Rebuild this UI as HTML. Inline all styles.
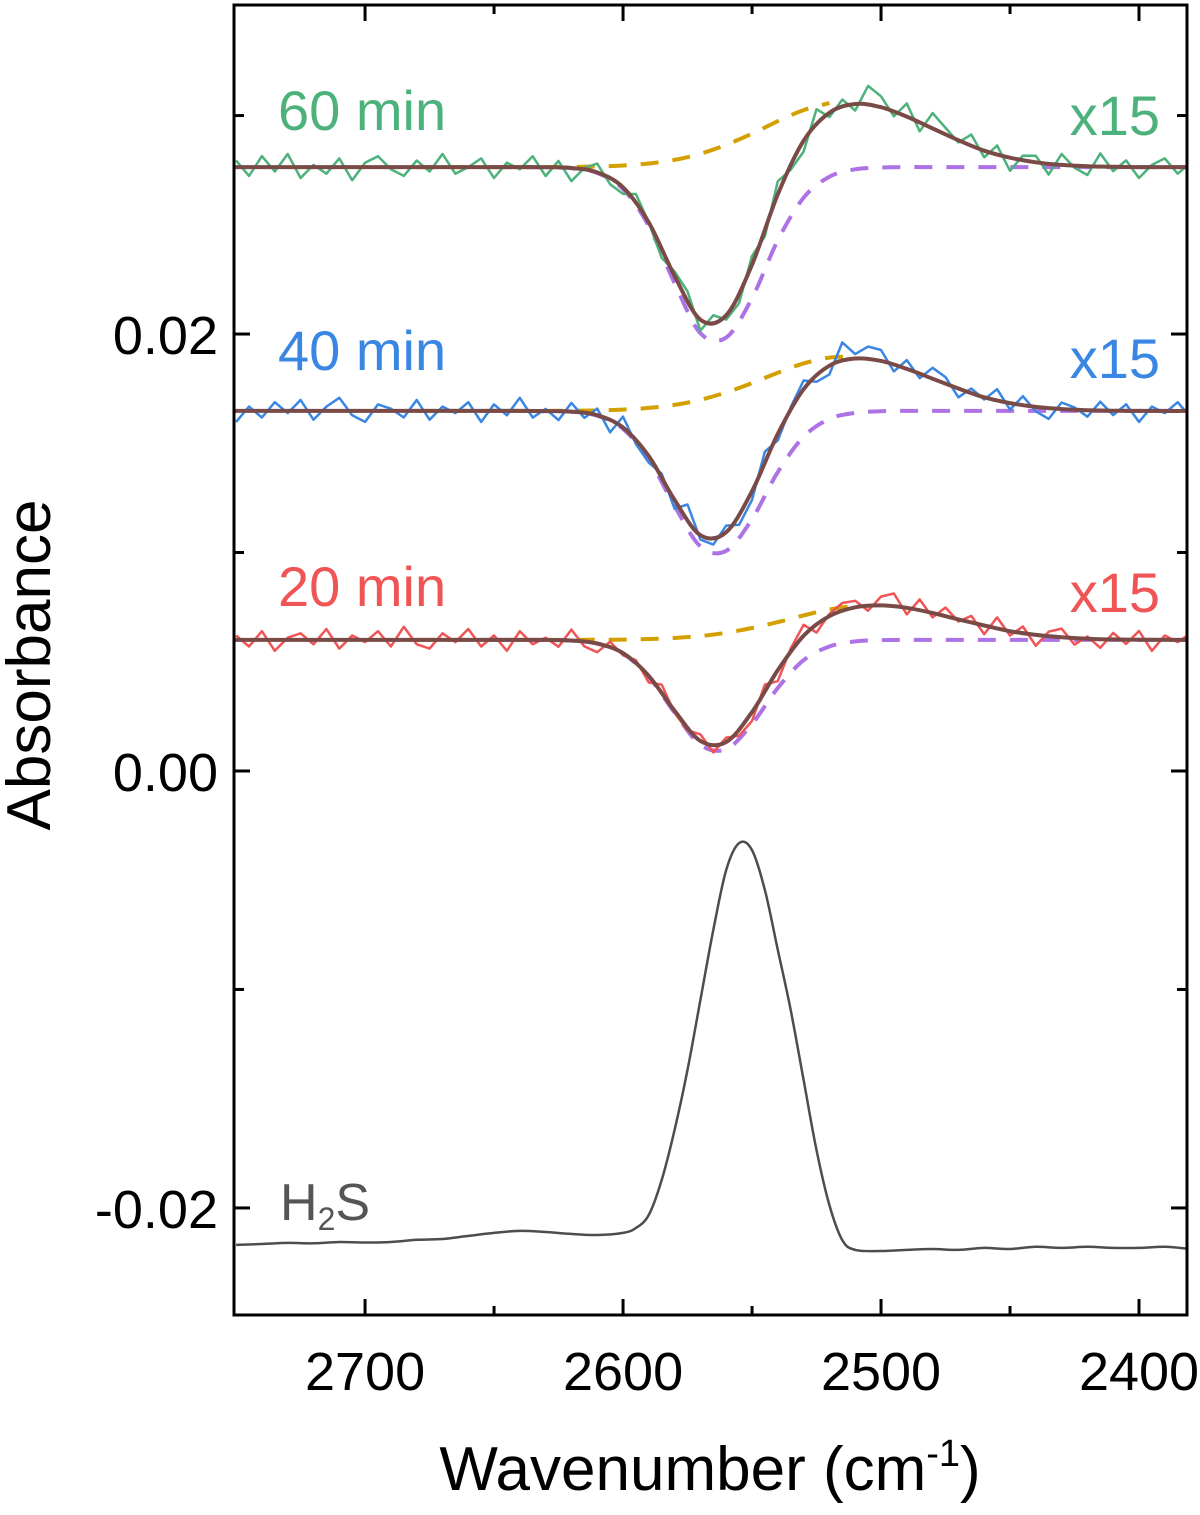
<!DOCTYPE html>
<html><head><meta charset="utf-8"><style>
html,body{margin:0;padding:0;background:#fff;}
svg{display:block;font-family:"Liberation Sans",Arial,sans-serif;}
</style></head><body>
<svg id="chart" width="1200" height="1515" viewBox="0 0 1200 1515">
<g id="plot"></g>
<g id="axes"></g>
<g>
  <text x="278" y="130" font-size="56" fill="#4cb17a">60 min</text>
  <text x="1160" y="135" font-size="56" fill="#4cb17a" text-anchor="end">x15</text>
  <text x="278" y="370" font-size="56" fill="#3a86e3">40 min</text>
  <text x="1160" y="378" font-size="56" fill="#3a86e3" text-anchor="end">x15</text>
  <text x="278" y="606" font-size="56" fill="#f05454">20 min</text>
  <text x="1160" y="612" font-size="56" fill="#f05454" text-anchor="end">x15</text>
  <text x="280" y="1220" font-size="52" fill="#555">H<tspan font-size="32" dy="10">2</tspan><tspan dy="-10">S</tspan></text>
  <text x="0" y="0" font-size="62" fill="#000" text-anchor="middle" transform="translate(50,665) rotate(-90)">Absorbance</text>
  <text x="710" y="1490" font-size="62" fill="#000" text-anchor="middle">Wavenumber (cm<tspan font-size="38" dy="-24">-1</tspan><tspan dy="24">)</tspan></text>
</g>
</svg>
<script>
// ---- data ----
const xTicks = [2700, 2600, 2500, 2400];
const xTickLabels = ["2700", "2600", "2500", "2400"];
const yTicks = [0.02, 0.00, -0.02];
const yTickLabels = ["0.02", "0.00", "-0.02"];
const yMinorTicks = [0.03, 0.01, -0.01];
const xMinorTicks = [2650, 2550, 2450];

const fitGrid = [2650,2640,2630,2620,2610,2600,2590,2580,2570,2560,2550,2540,2530,2520,2510,2500,2490,2480,2470,2460,2450,2440,2430,2420,2410,2400];
const baseline60 = 0.02764, baseline40 = 0.01648, baseline20 = 0.0060;
const purple60 = [0,0,-0.00001,-0.00005,-0.00027,-0.00100,-0.00270,-0.00531,-0.00760,-0.00780,-0.00600,-0.00335,-0.00140,-0.00044,-0.00010,-0.00002,0,0,0,0,0,0,0,0,0,0];
const gold60 = [0,0,0.000004,0.000011,0.00003,0.000075,0.000165,0.00033,0.000615,0.00102,0.00153,0.0021,0.00261,0.00293,0.00299,0.00276,0.00231,0.00177,0.00123,0.00075,0.00043,0.00022,0.0001,0.00004,0.000015,0];
const purple40 = [0,0,-0.00001,-0.00004,-0.00022,-0.00082,-0.00221,-0.00435,-0.00620,-0.00640,-0.00495,-0.00280,-0.00118,-0.00037,-0.00009,-0.00001,0,0,0,0,0,0,0,0,0,0];
const gold40 = [0,0,0.000003,0.00001,0.000025,0.00006,0.00014,0.000275,0.00051,0.00085,0.001275,0.00175,0.002175,0.00244,0.00249,0.0023,0.001925,0.001475,0.001025,0.000625,0.00036,0.000185,0.000085,0.000035,0.00001,0];
const purple20 = [0,0,0,-0.00003,-0.00017,-0.00062,-0.00169,-0.00333,-0.00480,-0.00500,-0.00385,-0.00220,-0.00093,-0.0003,-0.00007,-0.00001,0,0,0,0,0,0,0,0,0,0];
const gold20 = [0,0,0,0.000002,0.000006,0.000016,0.00004,0.000088,0.000176,0.000328,0.000544,0.000816,0.00112,0.00139,0.00156,0.00159,0.00147,0.00123,0.00094,0.00066,0.0004,0.00023,0.000118,0.000054,0.000022,0.000008];

// residuals of measured spectra around the fit (units of 1e-4), 2750 -> 2380 step 5
const res60 = [3,-4,5,-2,6,-5,1,-3,4,-6,2,5,-1,-4,3,-2,6,-3,0,4,-5,2,-1,5,-4,3,-6,1,4,-2,-3,5,0,-4,2,3,-5,1,-2,-6,4,-3,6,-1,-5,8,-2,4,-3,9,5,-2,6,-4,7,3,-1,5,-3,4,-6,2,3,-5,5,-1,-4,6,-2,3,-5,1,4,-3,2];
const res40 = [-5,2,-3,4,-1,5,-4,2,6,-2,-5,3,1,-3,5,-4,2,-1,4,-5,3,-2,6,-3,1,-4,4,-2,3,-5,5,-1,-3,2,-4,6,-2,-5,3,-6,-4,5,-3,2,4,-2,-4,9,2,6,5,-3,4,-2,5,3,-4,2,-1,5,-3,4,-2,-5,3,1,-3,4,-2,3,-5,2,-1,4,-3];
const res20 = [2,-3,4,-5,1,3,-2,5,-4,2,-1,4,-3,6,-2,-4,3,-1,5,-3,2,-5,4,-2,1,-3,5,-2,-4,3,-1,2,-3,4,-1,-2,3,-5,2,-4,-4,3,-5,2,5,-3,1,4,3,-2,4,6,-3,5,-2,4,-1,3,-4,5,-2,3,-5,2,4,-3,1,-4,3,-2,4,-5,2,-1,3];

const h2sWn = [2750,2740,2730,2720,2710,2700,2690,2680,2670,2660,2650,2640,2630,2620,2610,2600,2595,2590,2585,2580,2575,2570,2565,2560,2555,2550,2545,2540,2535,2530,2525,2520,2515,2510,2500,2490,2480,2470,2460,2450,2440,2430,2420,2410,2400,2390,2380];
const h2sAbs = [-0.02169,-0.02165,-0.02160,-0.02162,-0.02156,-0.02158,-0.02156,-0.02146,-0.02142,-0.02128,-0.02114,-0.02105,-0.02110,-0.02119,-0.02124,-0.02114,-0.02092,-0.02032,-0.01872,-0.01643,-0.01368,-0.01048,-0.00728,-0.00453,-0.00330,-0.00362,-0.00545,-0.00819,-0.01094,-0.01414,-0.01735,-0.01987,-0.02147,-0.02192,-0.02197,-0.02192,-0.02188,-0.02192,-0.02183,-0.02188,-0.02178,-0.02183,-0.02178,-0.02183,-0.02183,-0.02178,-0.02188];

// ---- axes ----
const L=234,R=1187,T=5,B=1315;
const X0=2750.8, X1=2381.4, Y0=0.03506, Y1=-0.0249;
const sx=v=>L+(X0-v)/(X0-X1)*(R-L);
const sy=v=>T+(Y0-v)/(Y0-Y1)*(B-T);
const NS="http://www.w3.org/2000/svg";
function mk(tag,attrs,parent){const e=document.createElementNS(NS,tag);for(const k in attrs)e.setAttribute(k,attrs[k]);parent.appendChild(e);return e;}
const plot=document.getElementById('plot'), axes=document.getElementById('axes');

function interp(grid,vals,w){
  if(w>grid[0]||w<grid[grid.length-1])return 0;
  for(let i=0;i<grid.length-1;i++){if(w<=grid[i]&&w>=grid[i+1]){const t=(grid[i]-w)/(grid[i]-grid[i+1]);return vals[i]+(vals[i+1]-vals[i])*t;}}
  return 0;
}
function smoothPath(pts){
  let d=`M${pts[0][0].toFixed(1)},${pts[0][1].toFixed(1)}`;
  for(let i=0;i<pts.length-1;i++){
    const p0=pts[i-1]||pts[i],p1=pts[i],p2=pts[i+1],p3=pts[i+2]||p2;
    const c1=[p1[0]+(p2[0]-p0[0])/6,p1[1]+(p2[1]-p0[1])/6];
    const c2=[p2[0]-(p3[0]-p1[0])/6,p2[1]-(p3[1]-p1[1])/6];
    d+=`C${c1[0].toFixed(1)},${c1[1].toFixed(1)} ${c2[0].toFixed(1)},${c2[1].toFixed(1)} ${p2[0].toFixed(1)},${p2[1].toFixed(1)}`;
  }
  return d;
}
function linePath(pts){return pts.map((p,i)=>(i?'L':'M')+p[0].toFixed(1)+','+p[1].toFixed(1)).join('');}

const clip=mk('clipPath',{id:'clip'},mk('defs',{},document.getElementById('chart')));
mk('rect',{x:L,y:T,width:R-L,height:B-T},clip);
plot.setAttribute('clip-path','url(#clip)');

const series=[
  {name:'60',base:baseline60,p:purple60,g:gold60,res:res60,color:'#4cb17a',gEnd:2515},
  {name:'40',base:baseline40,p:purple40,g:gold40,res:res40,color:'#3a86e3',gEnd:2510},
  {name:'20',base:baseline20,p:purple20,g:gold20,res:res20,color:'#f05454',gEnd:2505},
];
series.forEach(s=>{
  const gp=[[sx(2680),sy(s.base)]];
  fitGrid.forEach((w,i)=>{if(w>=s.gEnd)gp.push([sx(w),sy(s.base+s.g[i])]);});
  const g=mk('path',{d:smoothPath(gp),fill:'none',stroke:'#d4a000','stroke-width':4,'stroke-dasharray':'18,14'},plot);
  
  
  const pp=[];
  fitGrid.forEach((w,i)=>pp.push([sx(w),sy(s.base+s.p[i])]));
  pp.push([sx(2381),sy(s.base)]);
  const p=mk('path',{d:smoothPath(pp),fill:'none',stroke:'#ad72e6','stroke-width':4,'stroke-dasharray':'18,14'},plot);
  
  
  const mp=[];
  s.res.forEach((r,i)=>{const w=2750-5*i;mp.push([sx(w),sy(s.base+interp(fitGrid,s.p,w)+interp(fitGrid,s.g,w)+r*1e-4)]);});
  const m=mk('path',{d:linePath(mp),fill:'none',stroke:s.color,'stroke-width':2.5,'stroke-linejoin':'round'},plot);
  
  
  const fp=[[sx(2760),sy(s.base)],[sx(2680),sy(s.base)]];
  fitGrid.forEach((w,i)=>fp.push([sx(w),sy(s.base+s.p[i]+s.g[i])]));
  fp.push([sx(2370),sy(s.base)]);
  const f=mk('path',{d:smoothPath(fp),fill:'none',stroke:'#7a4a46','stroke-width':4},plot);
  
  
});
const hp=h2sWn.map((w,i)=>[sx(w),sy(h2sAbs[i])]);
const h=mk('path',{d:smoothPath(hp),fill:'none',stroke:'#4d4d4d','stroke-width':2.5},plot);



const frame=mk('rect',{x:L,y:T,width:R-L,height:B-T,fill:'none',stroke:'#000','stroke-width':3},axes);


xTicks.forEach((v,i)=>{
  const x=sx(v);
  mk('line',{x1:x,y1:B,x2:x,y2:B-16,stroke:'#000','stroke-width':3},axes);
  mk('line',{x1:x,y1:T,x2:x,y2:T+16,stroke:'#000','stroke-width':3},axes);
  const t=mk('text',{x:x,y:1390,'text-anchor':'middle','font-size':54,fill:'#000'},axes);
  t.textContent=xTickLabels[i];
  
  
});
xMinorTicks.forEach(v=>{const x=sx(v);
  mk('line',{x1:x,y1:B,x2:x,y2:B-9,stroke:'#000','stroke-width':3},axes);
  mk('line',{x1:x,y1:T,x2:x,y2:T+9,stroke:'#000','stroke-width':3},axes);});
yTicks.forEach((v,i)=>{
  const y=sy(v);
  mk('line',{x1:L,y1:y,x2:L+16,y2:y,stroke:'#000','stroke-width':3},axes);
  mk('line',{x1:R,y1:y,x2:R-16,y2:y,stroke:'#000','stroke-width':3},axes);
  const t=mk('text',{x:218,y:y+20,'text-anchor':'end','font-size':54,fill:'#000'},axes);
  t.textContent=yTickLabels[i];
  
  
});
yMinorTicks.forEach(v=>{const y=sy(v);
  mk('line',{x1:L,y1:y,x2:L+10,y2:y,stroke:'#000','stroke-width':3},axes);
  mk('line',{x1:R,y1:y,x2:R-10,y2:y,stroke:'#000','stroke-width':3},axes);});
</script>
</body></html>
